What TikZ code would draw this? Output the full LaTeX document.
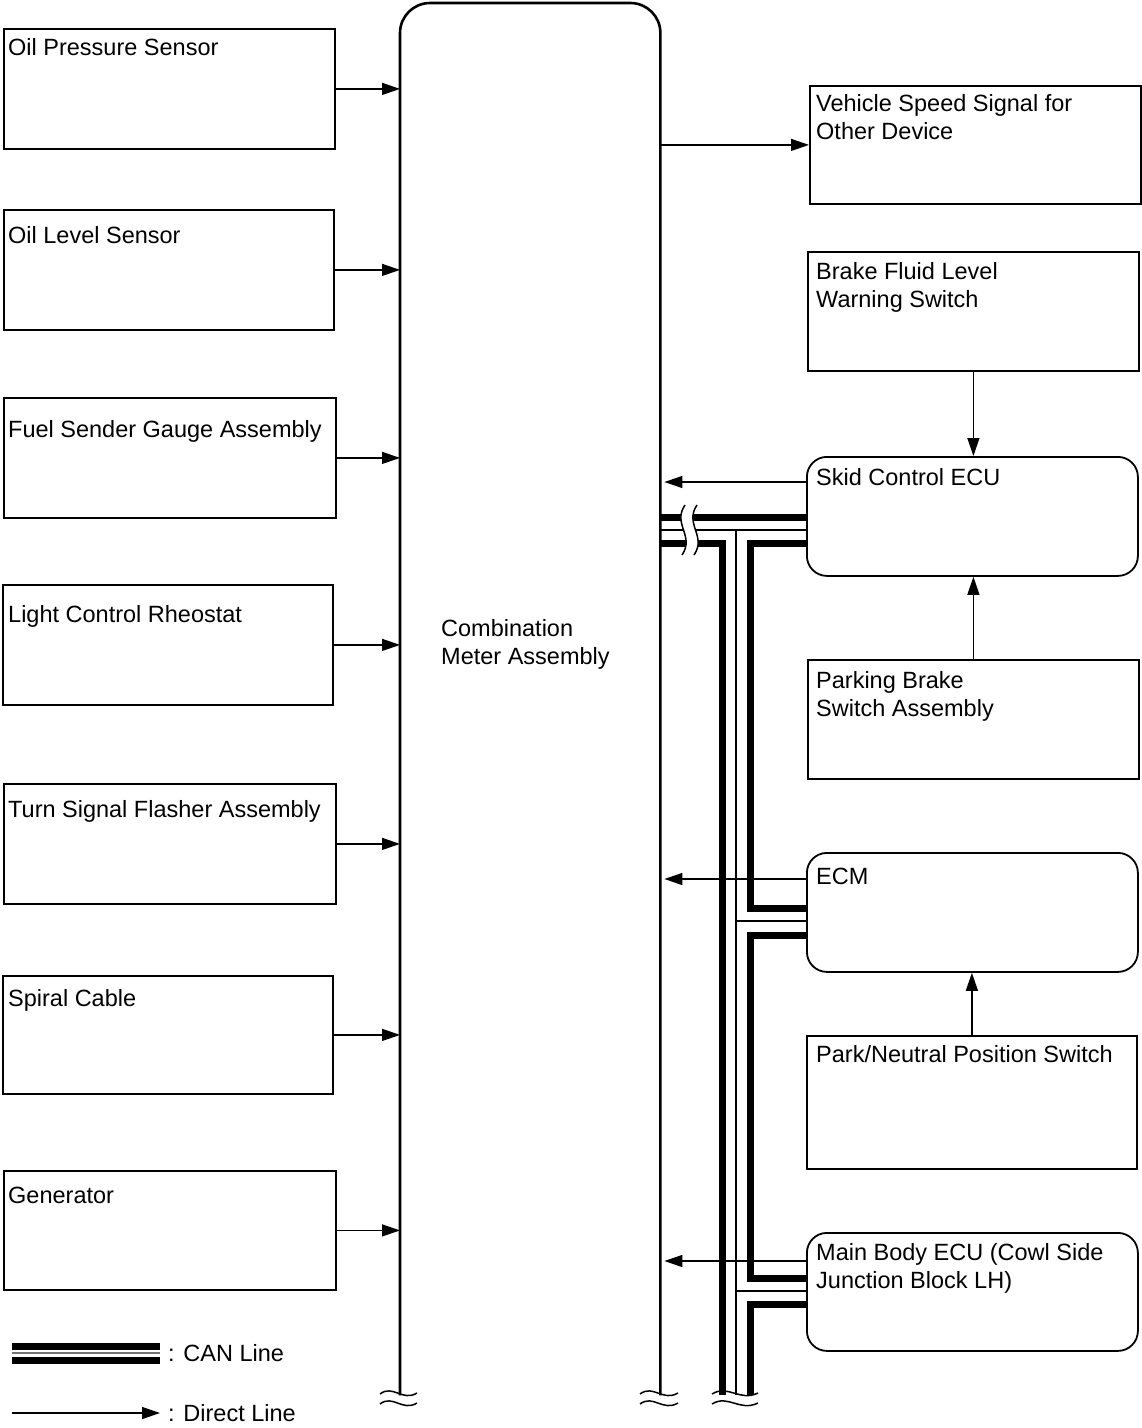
\documentclass[tikz,border=0pt]{standalone}
\usepackage{fontspec}
\setmainfont{Liberation Sans}
\usetikzlibrary{arrows.meta}
\begin{document}
\begin{tikzpicture}[x=1pt,y=-1pt,
  box/.style={draw, line width=1.8pt, anchor=north west, inner sep=0pt},
  rbox/.style={box, rounded corners=20pt},
  lbl/.style={anchor=base west, inner sep=0pt, font=\fontsize{23.5}{28}\selectfont, align=left},
  dline/.style={line width=1.3pt, -{Triangle[length=18pt,width=12pt]}},
  can/.style={line width=7pt},
  canthin/.style={line width=1.8pt},
  wave/.style={line width=1.5pt}]
\useasboundingbox (0,0) rectangle (1142,1428);

% combination meter
\node[inner sep=0pt, anchor=north west, minimum width=260pt, minimum height=1392pt] (meter) at (400,3) {};
\draw[line width=2.6pt, rounded corners=30pt] (meter.south west) -- (meter.north west) -- (meter.north east) -- (meter.south east);
\node[lbl] (meterlbl) at (441,664.5) {Combination\\Meter Assembly};

% left boxes
\node[box, minimum width=331pt, minimum height=120pt] (ops) at (3,28) {};
\node[box, minimum width=330pt, minimum height=120pt] (ols) at (3,209) {};
\node[box, minimum width=332pt, minimum height=120pt] (fsg) at (3,397) {};
\node[box, minimum width=330pt, minimum height=120pt] (lcr) at (2,584) {};
\node[box, minimum width=332pt, minimum height=120pt] (tsf) at (3,783) {};
\node[box, minimum width=330pt, minimum height=118pt] (spc) at (2,975) {};
\node[box, minimum width=332pt, minimum height=119pt] (gen) at (3,1170) {};

\node[lbl] (opsl) at (8,55.5) {Oil Pressure Sensor};
\node[lbl] (olsl) at (8,243.5) {Oil Level Sensor};
\node[lbl] (fsgl) at (8,437.5) {Fuel Sender Gauge Assembly};
\node[lbl] (lcrl) at (8,622.5) {Light Control Rheostat};
\node[lbl] (tsfl) at (8,817.5) {Turn Signal Flasher Assembly};
\node[lbl] (spcl) at (8,1006.5) {Spiral Cable};
\node[lbl] (genl) at (8,1203.5) {Generator};

\foreach \b in {ops,ols,fsg,lcr,tsf,spc,gen}
  \draw[dline] (\b.east) -- (\b.east -| meter.west);

% right boxes
\node[box, minimum width=331pt, minimum height=118pt] (vss) at (809,85) {};
\node[box, minimum width=331pt, minimum height=119pt] (bfl) at (807,251) {};
\node[rbox, minimum width=331pt, minimum height=119pt] (skid) at (806,456) {};
\node[box, minimum width=331pt, minimum height=119pt] (pbs) at (807,659) {};
\node[rbox, minimum width=331pt, minimum height=119pt] (ecm) at (806,852) {};
\node[box, minimum width=330pt, minimum height=133pt] (pnp) at (806,1035) {};
\node[rbox, minimum width=331pt, minimum height=118pt] (mbe) at (806,1232) {};

\node[lbl] (vssl) at (816,139.5) {Vehicle Speed Signal for\\Other Device};
\node[lbl] (bfll) at (816,307.5) {Brake Fluid Level\\Warning Switch};
\node[lbl] (skidl) at (816,485.5) {Skid Control ECU};
\node[lbl] (pbsl) at (816,716.5) {Parking Brake\\Switch Assembly};
\node[lbl] (ecml) at (816,884.5) {ECM};
\node[lbl] (pnpl) at (816,1062.5) {Park/Neutral Position Switch};
\node[lbl] (mbel) at (816,1288.5) {Main Body ECU (Cowl Side\\Junction Block LH)};

% direct lines on the right
\coordinate (mE) at ([xshift=4pt]meter.north east);
\draw[dline] (vss.west -| meter.east) -- (vss.west);
\draw[dline] (bfl.south) -- (bfl.south |- skid.north);
\draw[dline] (pbs.north) -- (pbs.north |- skid.south);
\draw[dline] (pnp.north) -- (pnp.north |- ecm.south);
\coordinate (s1) at ([yshift=-26pt]skid.north west);
\coordinate (s2) at ([yshift=-27pt]ecm.north west);
\coordinate (s3) at ([yshift=-29pt]mbe.north west);
\draw[dline] (s1) -- (s1 -| mE);
\draw[dline] (s2) -- (s2 -| mE);
\draw[dline] (s3) -- (s3 -| mE);

% CAN bus
\coordinate (xL) at (722,0);
\coordinate (xM) at (736,0);
\coordinate (xR) at (750,0);
\coordinate (yA) at (0,517);
\coordinate (yB) at (0,530);
\coordinate (yC) at (0,543);
\coordinate (yD) at (0,908);
\coordinate (yDm) at (0,921);
\coordinate (yDd) at (0,935);
\coordinate (yF) at (0,1278);
\coordinate (yFm) at (0,1291);
\coordinate (yFd) at (0,1304);
\coordinate (yE) at (0,1395);

\draw[can] (yA -| meter.east) -- (yA -| skid.west);
\draw[canthin] (yB -| meter.east) -- (yB -| skid.west);
\draw[can] (yC -| meter.east) -- (yC -| xL) -- (xL |- yE);
\draw[can] (yC -| skid.west) -- (yC -| xR) -- (xR |- yD) -- (yD -| ecm.west);
\draw[can] (yDd -| ecm.west) -- (yDd -| xR) -- (xR |- yF) -- (yF -| mbe.west);
\draw[can] (yFd -| mbe.west) -- (yFd -| xR) -- (xR |- yE);
\draw[canthin] (xM |- yB) -- (xM |- yE);
\draw[canthin] (xM |- yDm) -- (yDm -| ecm.west);
\draw[canthin] (xM |- yFm) -- (yFm -| mbe.west);

% break on the CAN bus
\fill[white] (685,505) .. controls (672,524) and (695,536) .. (682,555) -- (694,555) .. controls (707,536) and (684,524) .. (697,505) -- cycle;
\draw[wave] (685,505) .. controls (672,524) and (695,536) .. (682,555);
\draw[wave] (697,505) .. controls (684,524) and (707,536) .. (694,555);

% bottom breaks
\foreach \xa/\xb in {380/417, 640/678, 712/758} {
  \draw[wave] (\xa,1394) .. controls ({\xa+0.35*(\xb-\xa)},1384) and ({\xa+0.6*(\xb-\xa)},1402) .. (\xb,1393);
  \draw[wave] (\xa,1404) .. controls ({\xa+0.35*(\xb-\xa)},1394) and ({\xa+0.6*(\xb-\xa)},1412) .. (\xb,1403);
}

% legend
\draw[can] (12,1346) -- (160,1346);
\draw[canthin, black!55] (12,1353) -- (160,1353);
\draw[can] (12,1360) -- (160,1360);
\node[lbl] (lgcan) at (168,1361.5) {: CAN Line};
\node[lbl] (lgdir) at (168,1421) {: Direct Line};
\coordinate (lgs) at (12,1413);
\coordinate (lge) at (160,1413);
\draw[dline] (lgs) -- (lge);
\end{tikzpicture}
\end{document}
